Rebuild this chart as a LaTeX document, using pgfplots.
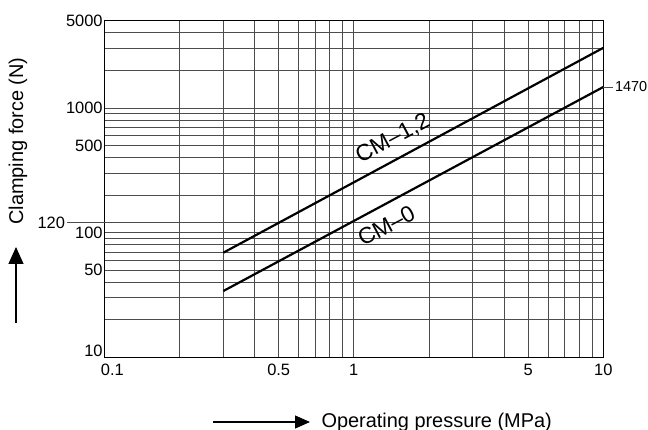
\documentclass[border=0pt]{standalone}
\usepackage{pgfplots}
\pgfplotsset{compat=1.18}
\usepackage{fontspec}
\setmainfont{Liberation Sans}
\usetikzlibrary{arrows.meta}

\newcommand{\tickfont}{\fontsize{16.5}{16.5}\selectfont}
\newcommand{\labfont}{\fontsize{20}{20}\selectfont}
\newcommand{\curvefont}{\fontsize{23}{23}\selectfont}

\begin{document}
\begin{tikzpicture}
    % page = 648 x 430 px, 1 px = 1 bp, plot area lower left at (0,0)
    \useasboundingbox (-104.3bp,-72.7bp) rectangle (543.7bp,357.3bp);
    \begin{axis}[
        scale only axis,
        width=499bp, height=336.6bp,
        xmode=log, ymode=log,
        xmin=0.1, xmax=10,
        ymin=10, ymax=5000,
        xtick={0.1,0.5,1,5,10},
        xticklabels={\hspace*{16bp}0.1,0.5,1,5,10},
        ytick={10,50,100,500,1000,5000},
        yticklabels={\raisebox{0pt}[\height][13bp]{10},50,100,500,1000,5000},
        minor xtick={0.2,0.3,0.4,0.6,0.7,0.8,0.9,2,3,4,6,7,8,9},
        minor ytick={20,30,40,60,70,80,90,200,300,400,600,700,800,900,2000,3000,4000},
        extra y ticks={120},
        extra y tick labels={},
        grid=both,
        major grid style={black!70, line width=0.7bp},
        minor grid style={black!70, line width=0.7bp},
        major tick length=0pt, minor tick length=0pt,
        axis line style={black, line width=1bp},
        tick label style={font=\tickfont},
        /pgf/number format/assume math mode=true,
        yticklabel style={inner sep=1.5bp},
        xticklabel style={inner sep=2bp, yshift=-5bp},
        clip=false,
    ]
        % CM-1,2
        \addplot[black, line width=2.2bp] coordinates {(0.3,69) (10,3030)};
        % CM-0
        \addplot[black, line width=2.2bp] coordinates {(0.3,34) (10,1470)};

        \node[rotate=28, font=\curvefont] at (axis cs:1.435,565) {CM\textendash1,2};
        \node[rotate=28, font=\curvefont] at (axis cs:1.35,114) {CM\textendash0};

        \draw[black!70, line width=0.7bp] (axis cs:0.1,120) -- ++(-37bp,0bp)
            node[left, inner sep=2bp, font=\tickfont, text=black] {120};
        \draw[black!70, line width=0.7bp] (axis cs:10,1470) -- ++(10bp,0bp)
            node[right, inner sep=1.5bp, font=\fontsize{14.5}{14.5}\selectfont, text=black] {1470};
    \end{axis}

    % axis titles with arrows
    \node[rotate=90, font=\labfont] at (-86.3bp,216.3bp) {Clamping force (N)};
    \draw[line width=1.2bp, -{Triangle[length=17bp,width=15bp]}]
        (-88.3bp,34.3bp) -- (-88.3bp,110.3bp);
    \draw[line width=1.2bp, -{Triangle[length=15bp,width=13bp]}]
        (108.7bp,-64.7bp) -- (205.7bp,-64.7bp);
    \node[anchor=west, font=\labfont] at (213.7bp,-64.7bp) {Operating pressure (MPa)};
\end{tikzpicture}
\end{document}
